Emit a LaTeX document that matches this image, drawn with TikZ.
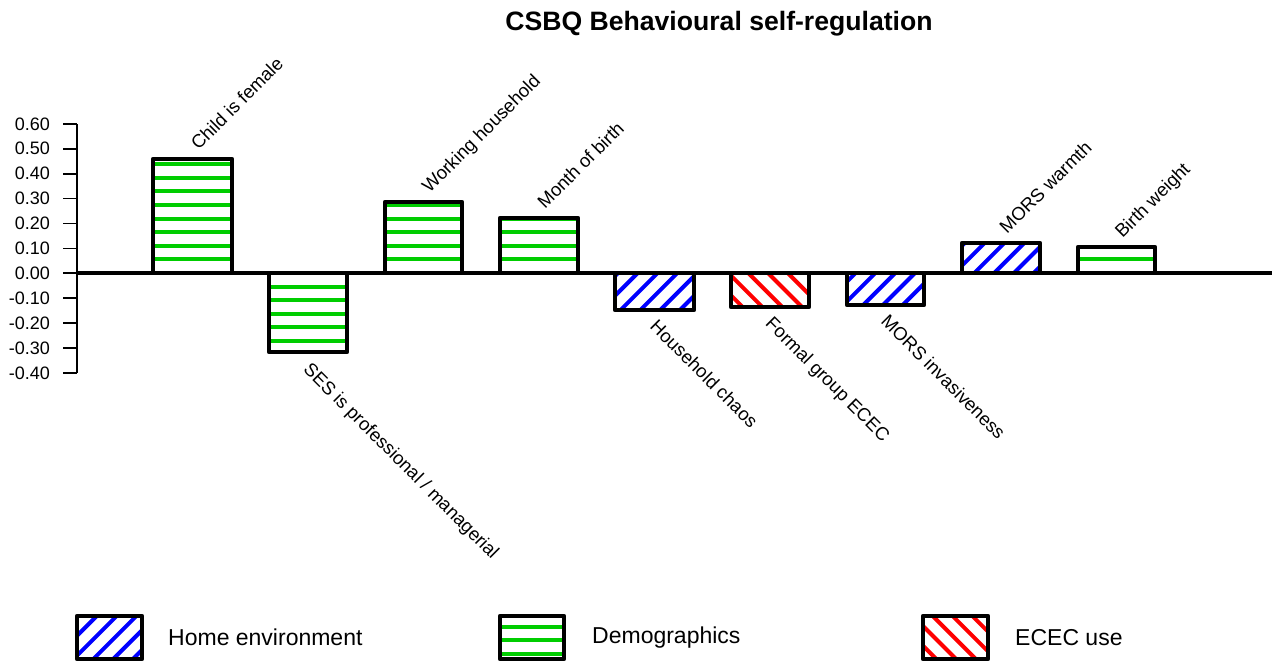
\documentclass[tikz,border=0pt]{standalone}
\usepackage{fontspec}
\setmainfont{Liberation Sans}
\definecolor{demogreen}{HTML}{00CD00}
\definecolor{homeblue}{HTML}{0000FF}
\definecolor{ececred}{HTML}{FF0000}
\tikzset{
  barframe/.style={draw=black, line width=4.5pt, line join=round},
  demohatch/.style={draw=demogreen, line width=4pt},
  homehatch/.style={draw=homeblue, line width=4pt},
  ececnhatch/.style={draw=ececred, line width=4pt},
  ticklab/.style={anchor=east, inner sep=0pt, font=\fontsize{18}{20}\selectfont},
  uplab/.style={anchor=base west, inner sep=0pt, rotate=45, font=\fontsize{18.5}{20}\selectfont},
  downlab/.style={anchor=north west, inner sep=0pt, rotate=-45, font=\fontsize{18.5}{20}\selectfont},
  legendlab/.style={anchor=west, inner sep=0pt, font=\fontsize{23}{26}\selectfont},
}
% horizontal green hatching (demographics)
\newcommand\demobox[4]{%
  \begin{scope}
    \clip (#1,#2) rectangle (#3,#4);
    \foreach \k in {-30,...,12} \draw[demohatch] (#1-5,{273-13.6*(\k)}) -- (#3+5,{273-13.6*(\k)});
  \end{scope}
  \draw[barframe] (#1,#2) rectangle (#3,#4);}
% rising blue hatching (home environment)
\newcommand\homebox[4]{%
  \begin{scope}
    \clip (#1,#2) rectangle (#3,#4);
    \foreach \k in {30,...,70} \draw[homehatch] ({19.8*\k-100},100) -- ({19.8*\k-700},700);
  \end{scope}
  \draw[barframe] (#1,#2) rectangle (#3,#4);}
% falling red hatching (ECEC use)
\newcommand\ececbox[4]{%
  \begin{scope}
    \clip (#1,#2) rectangle (#3,#4);
    \foreach \k in {10,...,32} \draw[ececnhatch] ({19.8*\k+100},100) -- ({19.8*\k+700},700);
  \end{scope}
  \draw[barframe] (#1,#2) rectangle (#3,#4);}
\begin{document}
\begin{tikzpicture}[x=1pt, y=-1pt]
\useasboundingbox[fill=white] (0,0) rectangle (1277,663);

% title
\node[font=\bfseries\fontsize{26.6}{28}\selectfont, anchor=base] (title) at (719,31) {CSBQ Behavioural self-regulation};

% value axis
\draw[line width=1.8pt] (77,124.3) -- (77,373.3);
\foreach \v/\t [count=\i from 0] in {-4/-0.40,-3/-0.30,-2/-0.20,-1/-0.10,0/0.00,1/0.10,2/0.20,3/0.30,4/0.40,5/0.50,6/0.60}{
  \draw[line width=1.8pt] (63,{273.3-24.9*(\v)}) -- (77,{273.3-24.9*(\v)});
  \node[ticklab] (tick\i) at (50,{273.3-24.9*(\v)}) {\t};
}

% bars
\demobox{153}{159}{232}{273}
\demobox{269}{273}{347}{352}
\demobox{385}{202}{462}{273}
\demobox{500}{218}{578}{273}
\homebox{615}{273}{694}{310}
\ececbox{731}{273}{809}{307}
\homebox{847}{273}{924}{305}
\homebox{962}{243}{1040}{273}
\demobox{1078}{247}{1155}{273}

% zero line
\draw[line width=3.4pt] (77,273) -- (1272,273);

% bar labels
\node[uplab] (l1) at (198.5,151) {Child is female};
\node[downlab] (l2) at (312,361) {SES is professional / managerial};
\node[uplab] (l3) at (429.5,194) {Working household};
\node[uplab] (l4) at (545,210) {Month of birth};
\node[downlab] (l5) at (658.5,318) {Household chaos};
\node[downlab] (l6) at (774,315) {Formal group ECEC};
\node[downlab] (l7) at (889.5,313) {MORS invasiveness};
\node[uplab] (l8) at (1007,235) {MORS warmth};
\node[uplab] (l9) at (1122.5,239) {Birth weight};

% legend
\homebox{77}{616}{142}{659}
\node[legendlab] (leg1) at (168,637.5) {Home environment};
\demobox{500}{616}{564}{659}
\node[legendlab] (leg2) at (592,637.5) {Demographics};
\ececbox{923}{616}{988}{659}
\node[legendlab] (leg3) at (1015,637.5) {ECEC use};
\end{tikzpicture}
\end{document}
